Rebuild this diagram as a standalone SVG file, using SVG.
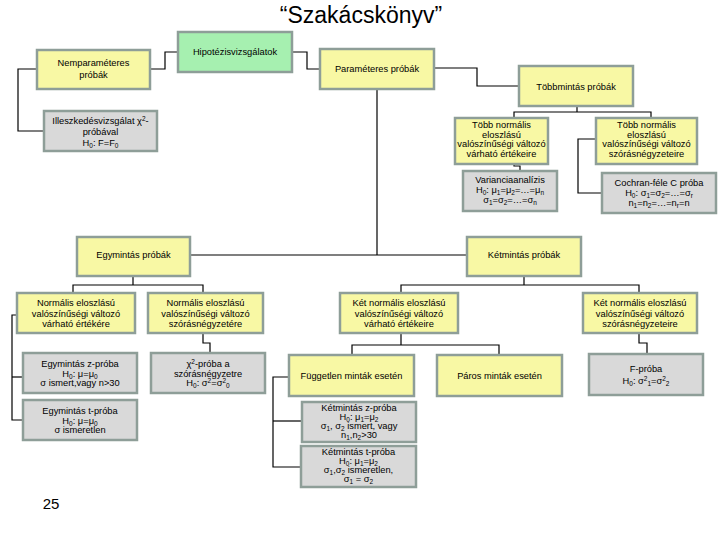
<svg xmlns="http://www.w3.org/2000/svg" width="720" height="540" viewBox="0 0 720 540">
<style>
.y,.g,.h{stroke:#8e9e98;stroke-width:2.5}
.y{fill:#f8f8a4}
.g{fill:#d9d9d9}
.h{fill:#a6f0b0}
text{font-family:"Liberation Sans",Arial,sans-serif;font-size:9.3px;fill:#000;text-anchor:middle}
.s{font-size:6.5px;baseline-shift:-1.5px}
.p{font-size:6.5px;baseline-shift:3px}
#conn path{fill:none;stroke:#000;stroke-width:1.2}
</style>
<rect x="0" y="0" width="720" height="540" fill="#fff"/>
<text x="361" y="23" style="font-size:23px">“Szakácskönyv”</text>
<g id="conn">
<path d="M178,52 H165 V69 H150"/>
<path d="M292,52 H307 V69 H320"/>
<path d="M37,69 H18 V131 H44"/>
<path d="M434,68 H477 V86 H519"/>
<path d="M377,89 V255"/>
<path d="M190,255 H467"/>
<path d="M577,106 V112"/>
<path d="M514,118 V112 H651 V118"/>
<path d="M514,164 V166 H520 V171"/>
<path d="M596,139 H578 V193 H602"/>
<path d="M133,276 V285"/>
<path d="M73,293 V285 H203 V293"/>
<path d="M17,315 H12 V420 H23"/>
<path d="M12,377 H23"/>
<path d="M203,333 V343 H210 V353"/>
<path d="M524,276 V285"/>
<path d="M401,293 V285 H639 V293"/>
<path d="M401,333 V345"/>
<path d="M352,355 V345 H499 V355"/>
<path d="M289,377 H273 V467 H301"/>
<path d="M273,421 H302"/>
<path d="M639,333 V343 H647 V354"/>
</g>
<g id="hipo"><rect class="h" x="178" y="32" width="114" height="40"/><text x="235" y="55">Hipotézisvizsgálatok</text></g>
<g id="nemparam"><rect class="y" x="37" y="50" width="113" height="39"/><text x="93.5" y="66">Nemparaméteres<tspan x="93.5" dy="12">próbák</tspan></text></g>
<g id="param"><rect class="y" x="320" y="49" width="114" height="40"/><text x="377" y="72">Paraméteres próbák</text></g>
<g id="tobbminta"><rect class="y" x="519" y="66" width="114" height="40"/><text x="576" y="90">Többmintás próbák</text></g>
<g id="illesz"><rect class="g" x="44" y="111" width="113" height="40"/><text x="100.5" y="124">Illeszkedésvizsgálat χ<tspan class="p">2</tspan>-<tspan x="100.5" dy="11">próbával</tspan><tspan x="100.5" dy="11">H<tspan class="s">0</tspan>: F=F<tspan class="s">0</tspan></tspan></text></g>
<g id="tobbnorm1"><rect class="y" x="455" y="118" width="93" height="46"/><text x="501.5" y="128">Több normális<tspan x="501.5" dy="9.5">eloszlású</tspan><tspan x="501.5" dy="9.5">valószínűségi változó</tspan><tspan x="501.5" dy="9.5">várható értékeire</tspan></text></g>
<g id="tobbnorm2"><rect class="y" x="596" y="118" width="101" height="46"/><text x="646.5" y="128">Több normális<tspan x="646.5" dy="9.5">eloszlású</tspan><tspan x="646.5" dy="9.5">valószínűségi változó</tspan><tspan x="646.5" dy="9.5">szórásnégyzeteire</tspan></text></g>
<g id="variancia"><rect class="g" x="463" y="171" width="94" height="40"/><text x="510" y="183">Varianciaanalízis<tspan x="510" dy="10">H<tspan class="s">0</tspan>: μ<tspan class="s">1</tspan>=μ<tspan class="s">2</tspan>=…=μ<tspan class="s">n</tspan></tspan><tspan x="510" dy="10">σ<tspan class="s">1</tspan>=σ<tspan class="s">2</tspan>=…=σ<tspan class="s">n</tspan></tspan></text></g>
<g id="cochran"><rect class="g" x="602" y="173" width="114" height="40"/><text x="659" y="186">Cochran-féle  C próba<tspan x="659" dy="10">H<tspan class="s">0</tspan>: σ<tspan class="s">1</tspan>=σ<tspan class="s">2</tspan>=…=σ<tspan class="s">r</tspan></tspan><tspan x="659" dy="10">n<tspan class="s">1</tspan>=n<tspan class="s">2</tspan>=…=n<tspan class="s">r</tspan>=n</tspan></text></g>
<g id="egyminta"><rect class="y" x="77" y="237" width="113" height="39"/><text x="133.5" y="258">Egymintás próbák</text></g>
<g id="ketminta"><rect class="y" x="467" y="237" width="114" height="39"/><text x="524" y="258">Kétmintás próbák</text></g>
<g id="norm1"><rect class="y" x="17" y="293" width="118" height="40"/><text x="76" y="306">Normális eloszlású<tspan x="76" dy="10.5">valószínűségi változó</tspan><tspan x="76" dy="10.5">várható értékére</tspan></text></g>
<g id="norm2"><rect class="y" x="148" y="293" width="115" height="40"/><text x="205.5" y="306">Normális eloszlású<tspan x="205.5" dy="10.5">valószínűségi változó</tspan><tspan x="205.5" dy="10.5">szórásnégyzetére</tspan></text></g>
<g id="ketnorm1"><rect class="y" x="340" y="293" width="118" height="40"/><text x="399" y="306">Két normális eloszlású<tspan x="399" dy="10.5">valószínűségi változó</tspan><tspan x="399" dy="10.5">várható értékeire</tspan></text></g>
<g id="ketnorm2"><rect class="y" x="583" y="293" width="114" height="40"/><text x="640" y="306">Két normális eloszlású<tspan x="640" dy="10.5">valószínűségi változó</tspan><tspan x="640" dy="10.5">szórásnégyzeteire</tspan></text></g>
<g id="zproba"><rect class="g" x="23" y="353" width="114" height="40"/><text x="80" y="367">Egymintás z-próba<tspan x="80" dy="9.5">H<tspan class="s">0</tspan>: μ=μ<tspan class="s">0</tspan></tspan><tspan x="80" dy="9.5">σ ismert,vagy n&gt;30</tspan></text></g>
<g id="tproba"><rect class="g" x="23" y="400" width="114" height="40"/><text x="80" y="414">Egymintás t-próba<tspan x="80" dy="9.5">H<tspan class="s">0</tspan>: μ=μ<tspan class="s">0</tspan></tspan><tspan x="80" dy="9.5">σ ismeretlen</tspan></text></g>
<g id="chi"><rect class="g" x="151" y="353" width="114" height="40"/><text x="208" y="367">χ<tspan class="p">2</tspan>-próba a<tspan x="208" dy="9.5">szórásnégyzetre</tspan><tspan x="208" dy="9.5">H<tspan class="s">0</tspan>: σ<tspan class="p">2</tspan>=σ<tspan class="p">2</tspan><tspan class="s">0</tspan></tspan></text></g>
<g id="fugg"><rect class="y" x="289" y="355" width="125" height="41"/><text x="351.5" y="379">Független minták esetén</text></g>
<g id="paros"><rect class="y" x="437" y="355" width="125" height="41"/><text x="499.5" y="379">Páros minták esetén</text></g>
<g id="fproba"><rect class="g" x="589" y="354" width="114" height="41"/><text x="646" y="372">F-próba<tspan x="646" dy="12">H<tspan class="s">0</tspan>: σ<tspan class="p">2</tspan><tspan class="s">1</tspan>=σ<tspan class="p">2</tspan><tspan class="s">2</tspan></tspan></text></g>
<g id="kz"><rect class="g" x="302" y="402" width="114" height="40"/><text x="359" y="410.5">Kétmintás z-próba<tspan x="359" dy="9">H<tspan class="s">0</tspan>: μ<tspan class="s">1</tspan>=μ<tspan class="s">2</tspan></tspan><tspan x="359" dy="9">σ<tspan class="s">1</tspan>, σ<tspan class="s">2</tspan> ismert, vagy</tspan><tspan x="359" dy="9">n<tspan class="s">1</tspan>,n<tspan class="s">2</tspan>&gt;30</tspan></text></g>
<g id="kt"><rect class="g" x="301" y="446" width="115" height="41"/><text x="358.5" y="454.5">Kétmintás t-próba<tspan x="358.5" dy="9">H<tspan class="s">0</tspan>: μ<tspan class="s">1</tspan>=μ<tspan class="s">2</tspan></tspan><tspan x="358.5" dy="9">σ<tspan class="s">1</tspan>,σ<tspan class="s">2</tspan> ismeretlen,</tspan><tspan x="358.5" dy="9">σ<tspan class="s">1</tspan> = σ<tspan class="s">2</tspan></tspan></text></g>
<text x="51" y="509" style="font-size:15px">25</text>
</svg>
